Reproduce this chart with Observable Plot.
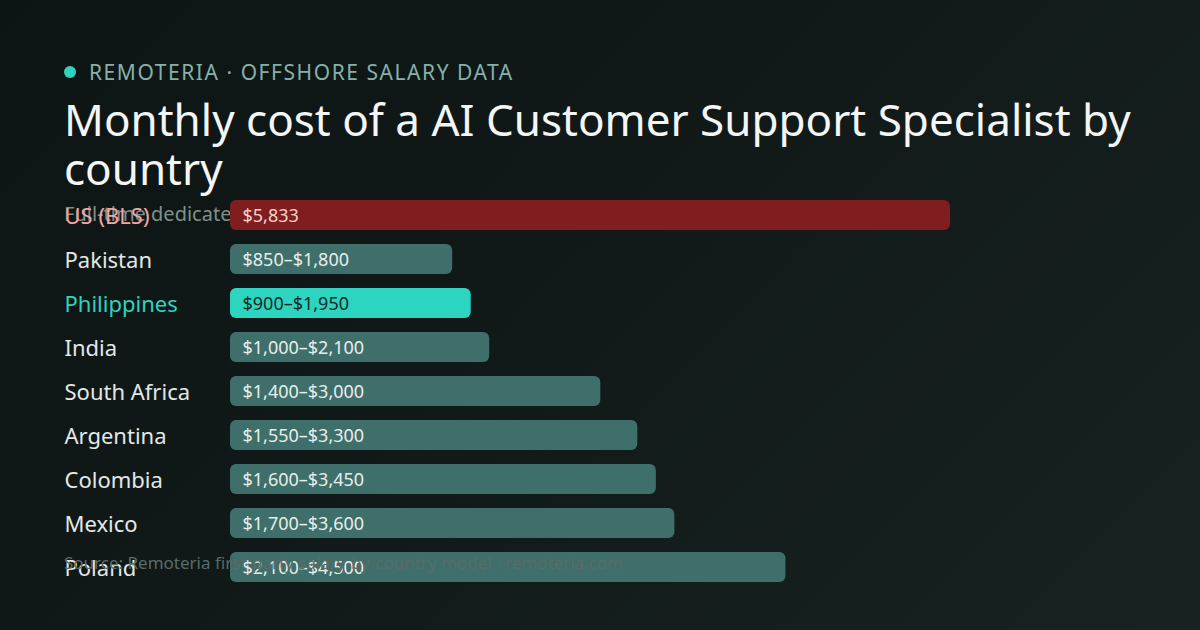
<!DOCTYPE html>
<html>
<head>
<meta charset="utf-8">
<script src="https://cdn.jsdelivr.net/npm/d3@7"></script>
<script src="https://cdn.jsdelivr.net/npm/@observablehq/plot@0.6"></script>
<style>
  html, body { margin: 0; padding: 0; }
  body {
    width: 1200px; height: 630px; overflow: hidden; position: relative;
    background: linear-gradient(135deg, #0d1514 0%, #111a19 50%, #182321 100%);
    font-family: "Noto Sans", sans-serif;
  }
  .kicker {
    position: absolute; left: 64px; top: 58px;
    font-size: 21px; letter-spacing: 1.55px; color: #86b1aa; line-height: 28px;
    display: flex; align-items: center;
  }
  .kicker .dot {
    width: 12px; height: 12px; border-radius: 50%; background: #2dd4bf;
    margin-right: 13px;
  }
  h1 {
    position: absolute; left: 64px; top: 95px; width: 1090px; margin: 0;
    font-size: 44px; font-weight: 400; line-height: 49px; color: #f4f6f5;
  }
  .sub {
    position: absolute; left: 64px; top: 200px; font-size: 20px; color: #7f918d;
    line-height: 28px; white-space: nowrap;
  }
  #chart { position: absolute; left: 0; top: 193px; }
  .caption {
    position: absolute; left: 64px; top: 551px; font-size: 17px; color: #5a6b68;
    line-height: 24px; white-space: nowrap; z-index: 2;
  }
</style>
</head>
<body>
<div class="kicker"><span class="dot"></span>REMOTERIA · OFFSHORE SALARY DATA</div>
<h1>Monthly cost of a AI Customer Support Specialist by country</h1>
<div class="sub">Full-time dedicated hire, fully loaded monthly cost in USD</div>
<div id="chart"></div>
<div class="caption">Source: Remoteria first-party salary-by-country model · remoteria.com</div>
<script>
const countries = ["US (BLS)", "Pakistan", "Philippines", "India", "South Africa", "Argentina", "Colombia", "Mexico", "Poland"];
const lows  = [5833, 850, 900, 1000, 1400, 1550, 1600, 1700, 2100];
const highs = [5833, 1800, 1950, 2100, 3000, 3300, 3450, 3600, 4500];
const kinds = ["us", "other", "focus", "other", "other", "other", "other", "other", "other"];

const fmt = d3.format("$,");
const rows = countries.map((c, i) => ({
  country: c,
  low: lows[i],
  high: highs[i],
  kind: kinds[i],
  label: lows[i] === highs[i] ? fmt(highs[i]) : `${fmt(lows[i])}–${fmt(highs[i])}`
}));

const barFill = {us: "#801e1f", other: "#3e6f6b", focus: "#2dd4bf"};
const nameFill = {us: "#f3a5a5", other: "#e3e8e6", focus: "#2dd4bf"};
const valFill = {us: "#f6d2d0", other: "#e8eeec", focus: "#0f2b27"};

const chart = Plot.plot({
  width: 1200,
  height: 396,
  marginLeft: 230,
  marginRight: 250,
  marginTop: 0,
  marginBottom: 0,
  style: {background: "transparent", fontFamily: "Noto Sans, sans-serif", overflow: "visible"},
  x: {domain: [0, 5833], axis: null},
  y: {domain: countries, padding: 0, axis: null},
  marks: [
    Plot.barX(rows, {
      x1: 0, x2: "high", y: "country",
      fill: d => barFill[d.kind],
      insetTop: 7, insetBottom: 7, rx: 6
    }),
    Plot.text(rows, {
      y: "country", text: "country", frameAnchor: "left",
      textAnchor: "start", dx: -166, dy: 1.5, fontSize: 22,
      fill: d => nameFill[d.kind]
    }),
    Plot.text(rows, {
      y: "country", text: "label", frameAnchor: "left",
      textAnchor: "start", dx: 12, dy: 0.5, fontSize: 18,
      fill: d => valFill[d.kind]
    })
  ]
});
document.getElementById("chart").appendChild(chart);
</script>
</body>
</html>
